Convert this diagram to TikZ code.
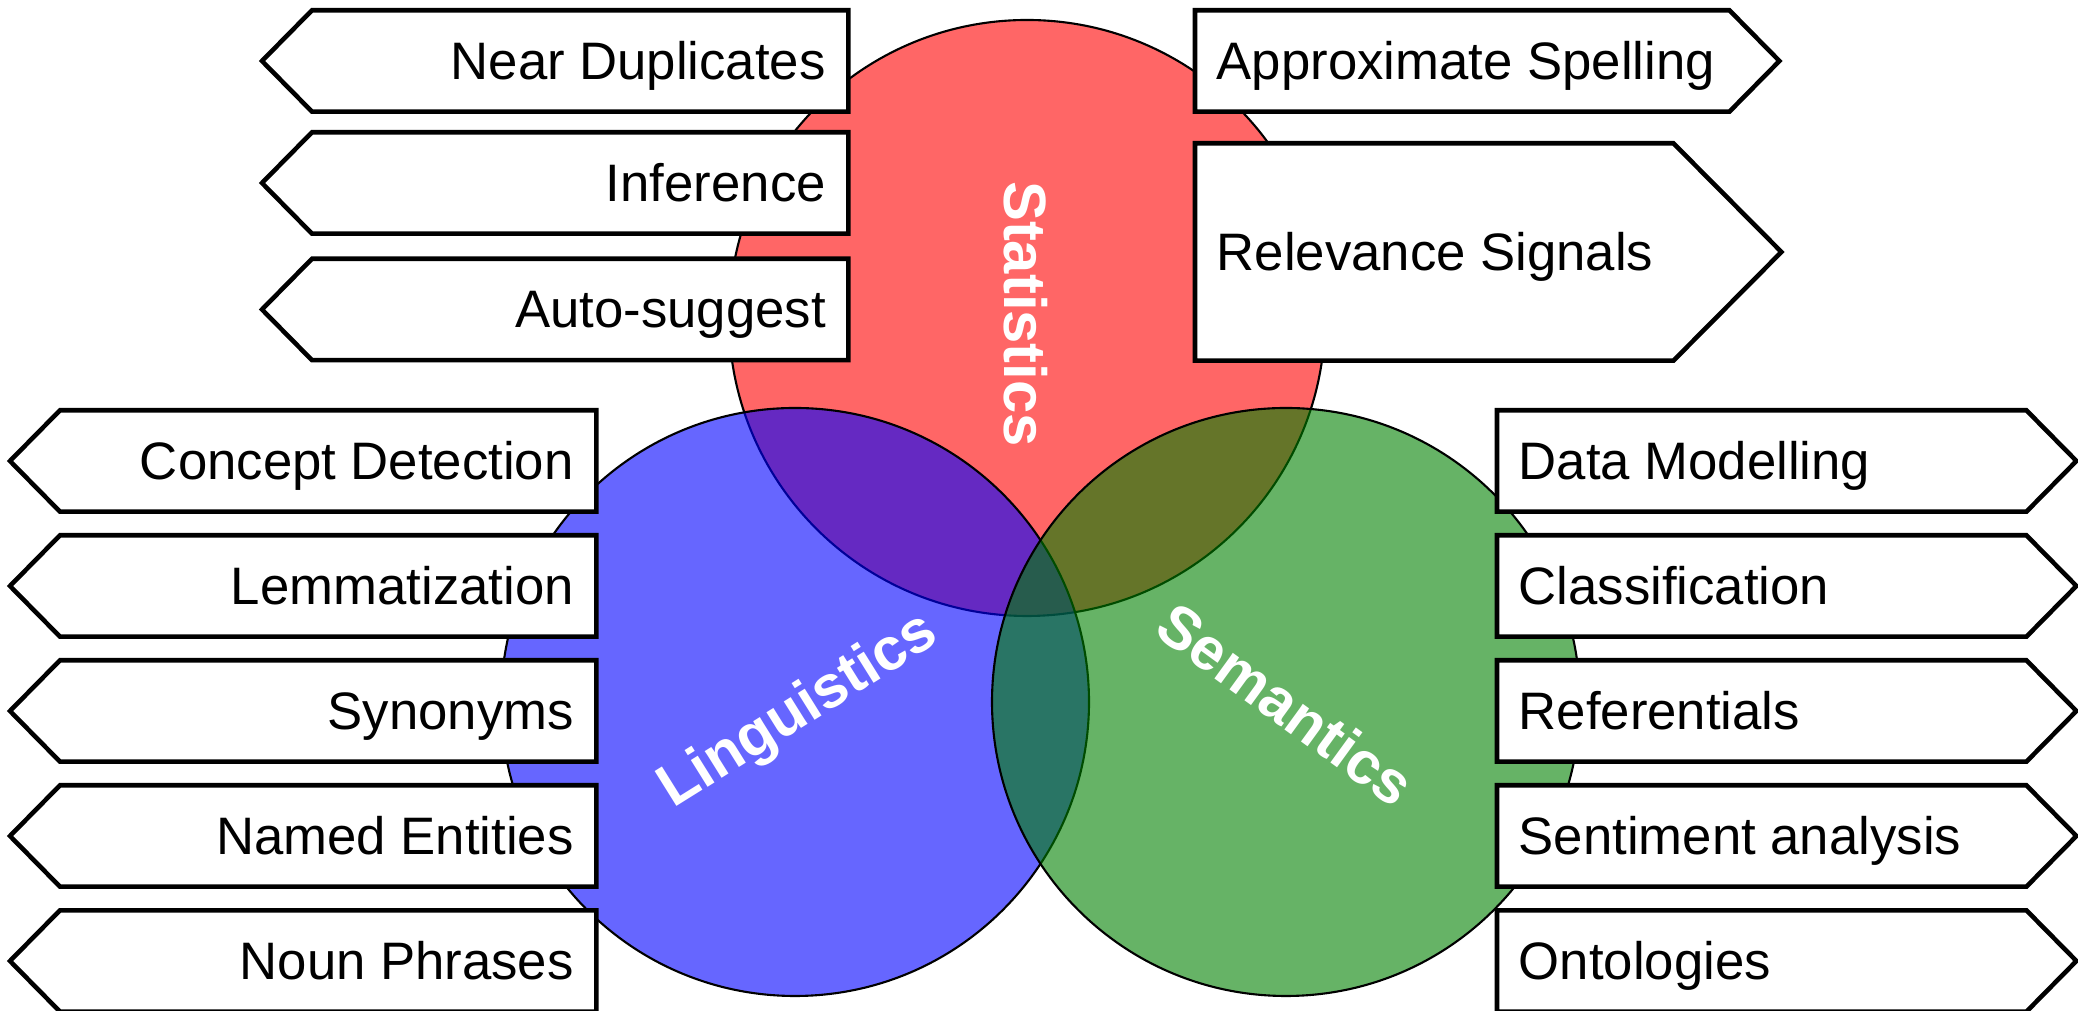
\documentclass[tikz,border=0pt]{standalone}
\usepackage{fontspec}
\setmainfont{Liberation Sans}
\usetikzlibrary{backgrounds}

\definecolor{statred}{RGB}{255,0,0}
\definecolor{lingblue}{RGB}{0,0,255}
\definecolor{semgreen}{RGB}{0,128,0}

\tikzset{
  tag/.style={minimum height=1cm, inner xsep=0.22cm, inner ysep=0pt, text width=4.91cm,
    font=\fontsize{15}{18}\selectfont, text height=13.6pt, text depth=3.2pt, anchor=west},
  tagleft/.style={tag, align=flush right},
  tagright/.style={tag, align=flush left, inner xsep=0.21cm},
  tagline/.style={draw=black, line width=1.3pt, fill=white, line join=miter},
  venn/.style={draw=black, line width=0.6pt, fill opacity=0.6},
  venntext/.style={text=white, font=\fontsize{17}{20}\selectfont\bfseries},
}

\begin{document}
\begin{tikzpicture}
  \useasboundingbox (0,0) rectangle (20.78,10.11);

  % tags around statistics
  \foreach \n/\y/\t in {dup/9.50/Near Duplicates, infer/8.28/Inference, suggest/7.015/Auto-suggest}
    \node[tagleft] (\n) at (3.12,\y) {\mbox{\t}};
  \node[tagright, text width=4.91cm] (spell) at (11.95,9.50) {\mbox{Approximate Spelling}};
  \node[tagright, text width=4.35cm, minimum height=2.16cm] (signals) at (11.95,7.59) {\mbox{Relevance Signals}};

  % tags for linguistics
  \foreach \n/\y/\t in {concept/5.50/Concept Detection, lemma/4.25/Lemmatization, synonym/3.00/Synonyms,
                        entity/1.75/Named Entities, noun/0.50/Noun Phrases}
    \node[tagleft] (\n) at (0.60,\y) {\mbox{\t}};

  % tags for semantics
  \foreach \n/\y/\t in {datamod/5.50/Data Modelling, classif/4.25/Classification, referential/3.00/Referentials,
                        sentiment/1.75/Sentiment analysis, ontology/0.50/Ontologies}
    \node[tagright, text width=4.86cm] (\n) at (14.97,\y) {\mbox{\t}};

  \node[venntext, rotate=-90] (stats) at (10.26,6.97) {Statistics};
  \node[venntext, rotate=32] (ling) at (7.99,2.99) {Linguistics};
  \node[venntext, rotate=-36] (sem) at (12.86,3.07) {Semantics};

  \begin{scope}[on background layer]
    \draw[venn, fill=statred] (10.27,6.93) circle (2.98);
    \draw[venn, fill=lingblue] (7.95,3.09) circle (2.94);
    \draw[venn, fill=semgreen] (12.86,3.09) circle (2.94);

    \foreach \n in {dup,infer,suggest,concept,lemma,synonym,entity,noun}
      \draw[tagline] (\n.north east) -- (\n.north west) -- ([xshift=-5mm]\n.west)
        -- (\n.south west) -- (\n.south east) -- cycle;
    \foreach \n in {spell,datamod,classif,referential,sentiment,ontology}
      \draw[tagline] (\n.north west) -- (\n.north east) -- ([xshift=5mm]\n.east)
        -- (\n.south east) -- (\n.south west) -- cycle;
    \draw[tagline] (signals.north west) -- (signals.north east) -- ([xshift=10.8mm]signals.east)
      -- (signals.south east) -- (signals.south west) -- cycle;
  \end{scope}
\end{tikzpicture}
\end{document}
